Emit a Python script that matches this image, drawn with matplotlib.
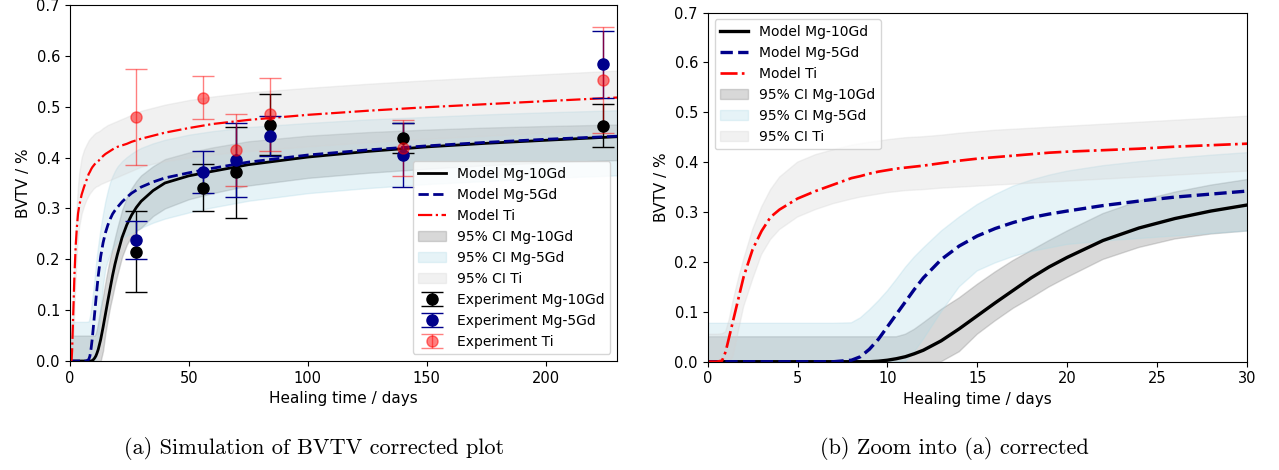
import matplotlib
matplotlib.use("Agg")
import matplotlib.pyplot as plt

# ---- model time grid (days) ----
days = [0, 0.5, 0.8, 1.0, 1.2, 1.4, 1.7, 2.0, 2.5, 3,
        3.5, 4, 5, 6, 7, 8, 8.5, 9, 9.5, 10,
        10.5, 11, 11.5, 12, 13, 14, 15, 16, 17, 18,
        19, 20, 22, 24, 26, 28, 30, 35, 40, 50,
        60, 75, 100, 125, 150, 175, 200, 230]

# ---- Model Ti ----
ti_model = [0, 0, 0.002, 0.02, 0.05, 0.08, 0.125, 0.17, 0.225, 0.262,
            0.29, 0.305, 0.327, 0.342, 0.355, 0.368, 0.372, 0.377, 0.381, 0.384,
            0.387, 0.389, 0.391, 0.393, 0.398, 0.403, 0.407, 0.410, 0.413, 0.416,
            0.419, 0.421, 0.424, 0.427, 0.431, 0.434, 0.437, 0.443, 0.449, 0.458,
            0.466, 0.474, 0.484, 0.492, 0.499, 0.505, 0.511, 0.518]
ti_hi = [0.055, 0.055, 0.056, 0.06, 0.085, 0.12, 0.165, 0.205, 0.265, 0.31,
         0.345, 0.37, 0.40, 0.415, 0.425, 0.434, 0.437, 0.44, 0.442, 0.445,
         0.447, 0.449, 0.45, 0.451, 0.454, 0.458, 0.461, 0.464, 0.466, 0.468,
         0.470, 0.472, 0.476, 0.480, 0.484, 0.488, 0.492, 0.498, 0.504, 0.513,
         0.52, 0.528, 0.537, 0.545, 0.552, 0.558, 0.564, 0.571]
ti_lo = [0, 0, 0, 0, 0, 0.01, 0.06, 0.11, 0.165, 0.215,
         0.245, 0.265, 0.29, 0.305, 0.317, 0.326, 0.33, 0.333, 0.336, 0.339,
         0.341, 0.343, 0.344, 0.345, 0.348, 0.35, 0.352, 0.354, 0.356, 0.358,
         0.36, 0.362, 0.366, 0.37, 0.374, 0.378, 0.382, 0.388, 0.393, 0.40,
         0.406, 0.413, 0.422, 0.43, 0.437, 0.443, 0.449, 0.455]

# ---- Model Mg-5Gd ----
mg5_model = [0, 0, 0, 0, 0, 0, 0, 0, 0, 0,
             0, 0, 0, 0, 0, 0.003, 0.01, 0.025, 0.045, 0.07,
             0.095, 0.12, 0.145, 0.168, 0.205, 0.232, 0.252, 0.267, 0.279, 0.289,
             0.296, 0.302, 0.313, 0.322, 0.330, 0.336, 0.342, 0.352, 0.36, 0.37,
             0.379, 0.391, 0.405, 0.415, 0.423, 0.43, 0.436, 0.442]
mg5_hi = [0.077, 0.077, 0.077, 0.077, 0.077, 0.077, 0.077, 0.077, 0.077, 0.077,
          0.077, 0.077, 0.077, 0.077, 0.077, 0.078, 0.088, 0.104, 0.122, 0.142,
          0.165, 0.189, 0.21, 0.228, 0.262, 0.29, 0.315, 0.335, 0.352, 0.364,
          0.374, 0.382, 0.393, 0.401, 0.408, 0.414, 0.419, 0.428, 0.435, 0.445,
          0.452, 0.46, 0.468, 0.475, 0.48, 0.485, 0.489, 0.493]
mg5_lo = [0, 0, 0, 0, 0, 0, 0, 0, 0, 0,
          0, 0, 0, 0, 0, 0, 0, 0, 0, 0,
          0, 0, 0.02, 0.045, 0.1, 0.15, 0.182, 0.198, 0.211, 0.221,
          0.228, 0.235, 0.242, 0.247, 0.252, 0.257, 0.262, 0.272, 0.28, 0.292,
          0.302, 0.315, 0.33, 0.34, 0.348, 0.354, 0.36, 0.365]

# ---- Model Mg-10Gd ----
mg10_model = [0, 0, 0, 0, 0, 0, 0, 0, 0, 0,
              0, 0, 0, 0, 0, 0, 0, 0, 0.001, 0.003,
              0.006, 0.01, 0.016, 0.023, 0.042, 0.066, 0.092, 0.118, 0.143, 0.168,
              0.19, 0.209, 0.243, 0.268, 0.287, 0.302, 0.314, 0.335, 0.35, 0.364,
              0.373, 0.386, 0.401, 0.412, 0.421, 0.428, 0.434, 0.441]
mg10_hi = [0.05, 0.05, 0.05, 0.05, 0.05, 0.05, 0.05, 0.05, 0.05, 0.05,
           0.05, 0.05, 0.05, 0.05, 0.05, 0.05, 0.05, 0.05, 0.05, 0.05,
           0.05, 0.055, 0.065, 0.078, 0.105, 0.128, 0.155, 0.18, 0.203, 0.223,
           0.243, 0.262, 0.297, 0.322, 0.340, 0.354, 0.365, 0.383, 0.397, 0.41,
           0.42, 0.432, 0.443, 0.45, 0.455, 0.459, 0.462, 0.465]
mg10_lo = [0, 0, 0, 0, 0, 0, 0, 0, 0, 0,
           0, 0, 0, 0, 0, 0, 0, 0, 0, 0,
           0, 0, 0, 0, 0, 0.02, 0.055, 0.082, 0.107, 0.128,
           0.15, 0.169, 0.205, 0.229, 0.246, 0.256, 0.262, 0.285, 0.3, 0.318,
           0.33, 0.345, 0.36, 0.37, 0.378, 0.385, 0.39, 0.395]

# ---- Experiments ----
exp_days = [28, 56, 70, 84, 140, 224]
exp_mg10 = [0.215, 0.341, 0.371, 0.465, 0.438, 0.463]
exp_mg10_err = [0.080, 0.047, 0.090, 0.059, 0.030, 0.042]
exp_mg5 = [0.238, 0.371, 0.395, 0.442, 0.405, 0.583]
exp_mg5_err = [0.037, 0.041, 0.072, 0.039, 0.062, 0.065]
exp_ti = [0.480, 0.518, 0.415, 0.485, 0.418, 0.552]
exp_ti_err = [0.094, 0.043, 0.071, 0.072, 0.055, 0.104]

captions = ["(a) Simulation of BVTV corrected plot", "(b) Zoom into (a) corrected"]

fig = plt.figure(figsize=(12.79, 4.70), dpi=100)
axL = fig.add_axes([0.0545, 0.2319, 0.4281, 0.7575])
axR = fig.add_axes([0.5533, 0.2304, 0.4215, 0.7430])


def draw_models(ax, lw):
    ax.plot(days, mg10_model, color="black", lw=lw, label="Model Mg-10Gd")
    ax.plot(days, mg5_model, color="darkblue", lw=lw, ls="--", label="Model Mg-5Gd")
    ax.plot(days, ti_model, color="red", lw=lw * 0.8, ls="-.", label="Model Ti")
    ax.fill_between(days, mg10_lo, mg10_hi, color="grey", alpha=0.3, label="95% CI Mg-10Gd")
    ax.fill_between(days, mg5_lo, mg5_hi, color="lightblue", alpha=0.3, label="95% CI Mg-5Gd")
    ax.fill_between(days, ti_lo, ti_hi, color="lightgrey", alpha=0.3, label="95% CI Ti")


draw_models(axL, 2.0)
axL.errorbar(exp_days, exp_mg10, yerr=exp_mg10_err, fmt="o", color="black", ms=8,
             capsize=8, elinewidth=1, label="Experiment Mg-10Gd")
axL.errorbar(exp_days, exp_mg5, yerr=exp_mg5_err, fmt="o", color="darkblue", ms=8,
             capsize=8, elinewidth=1, label="Experiment Mg-5Gd")
axL.errorbar(exp_days, exp_ti, yerr=exp_ti_err, fmt="o", color="red", ms=8,
             capsize=8, elinewidth=1, alpha=0.5, label="Experiment Ti")
axL.set_xlim(0, 230)
axL.set_ylim(0, 0.7)
axL.set_xlabel("Healing time / days", fontsize=11)
axL.set_ylabel("BVTV / %", fontsize=11)
axL.tick_params(labelsize=10.5)
axL.legend(loc="lower right", fontsize=10)

draw_models(axR, 2.4)
axR.set_xlim(0, 30)
axR.set_ylim(0, 0.7)
axR.set_xlabel("Healing time / days", fontsize=11)
axR.set_ylabel("BVTV / %", fontsize=11)
axR.tick_params(labelsize=10.5)
axR.legend(loc="upper left", fontsize=10)

fig.text(314 / 1279, 1 - 449 / 470, captions[0], ha="center", va="center",
         family="cmr10", fontsize=16)
fig.text(954 / 1279, 1 - 449 / 470, captions[1], ha="center", va="center",
         family="cmr10", fontsize=16)

fig.savefig("out.png", dpi=100)
